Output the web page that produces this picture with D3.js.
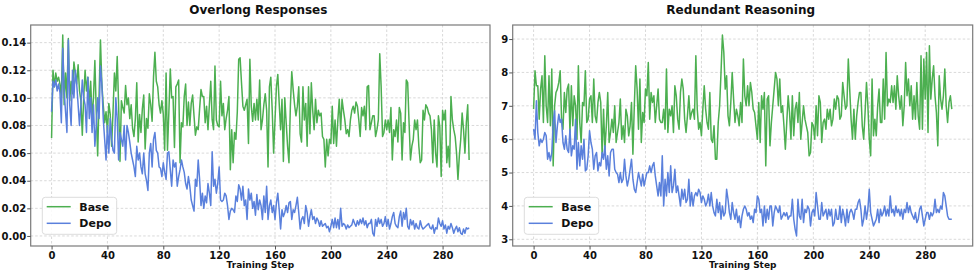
<!DOCTYPE html>
<html>
<head>
<meta charset="utf-8">
<script src="https://cdn.jsdelivr.net/npm/d3@7"></script>
<style>
body { margin: 0; background: #fff; }
svg text { font-family: "DejaVu Sans", sans-serif; font-weight: bold; fill: #111; }
</style>
</head>
<body>
<div id="chart"></div>
<script>
var width = 977; // size of the whole figure
var height = 275;
var top_y = 25, bottom_y = 246; // plot frame, same for both panels

// x ticks shared by both panels
var xTicks = [0, 40, 80, 120, 160, 200, 240, 280];
var leftYTicks = [0, 0.02, 0.04, 0.06, 0.08, 0.10, 0.12, 0.14];
var rightYTicks = [3, 4, 5, 6, 7, 8, 9];
var seriesNames = ["Base", "Depo"];
var seriesColors = ["#4caf50", "#5a80dc"];

// Overlong Responses (fraction), steps 0..299
var overlongBase = [
  0.071, 0.120, 0.108, 0.118, 0.112, 0.115, 0.110, 0.100, 0.1455, 0.095,
  0.118, 0.100, 0.143, 0.098, 0.112, 0.103, 0.126, 0.118, 0.110, 0.124,
  0.105, 0.098, 0.073, 0.100, 0.120, 0.105, 0.115, 0.095, 0.112, 0.085,
  0.100, 0.127, 0.090, 0.058, 0.100, 0.142, 0.110, 0.095, 0.082, 0.090,
  0.075, 0.096, 0.088, 0.065, 0.090, 0.118, 0.105, 0.130, 0.095, 0.054,
  0.098, 0.093, 0.089, 0.109, 0.095, 0.100, 0.085, 0.095, 0.078, 0.072,
  0.085, 0.111, 0.068, 0.088, 0.075, 0.092, 0.102, 0.063, 0.085, 0.078,
  0.103,
  0.095, 0.083, 0.115, 0.133, 0.112, 0.108, 0.095, 0.089, 0.098, 0.088,
  0.062, 0.118, 0.062, 0.090, 0.121, 0.100, 0.101, 0.064, 0.108, 0.110,
  0.113, 0.053, 0.082, 0.079, 0.101, 0.110, 0.080, 0.097, 0.080, 0.096,
  0.102, 0.087, 0.073, 0.079, 0.077, 0.092, 0.106, 0.101, 0.101, 0.082,
  0.094, 0.077, 0.095, 0.112, 0.084, 0.077, 0.123, 0.084, 0.080, 0.079,
  0.112, 0.087, 0.096, 0.077, 0.085, 0.091, 0.101, 0.048, 0.077, 0.053,
  0.075, 0.070, 0.090, 0.128, 0.129, 0.111, 0.094, 0.091, 0.095, 0.099,
  0.067, 0.128, 0.094, 0.083, 0.096, 0.084, 0.099, 0.084, 0.113,
  0.077, 0.084, 0.095, 0.103, 0.091, 0.050, 0.108, 0.115, 0.091, 0.060,
  0.084, 0.108, 0.117, 0.096, 0.077, 0.099, 0.054, 0.100, 0.082, 0.065,
  0.053, 0.094, 0.119, 0.106, 0.095, 0.087, 0.094, 0.108, 0.074, 0.068,
  0.108, 0.084, 0.096, 0.065, 0.108, 0.074, 0.111, 0.091, 0.077, 0.099,
  0.082, 0.091, 0.087, 0.089, 0.072, 0.070, 0.050, 0.070, 0.058, 0.070,
  0.067, 0.094, 0.067, 0.084, 0.065, 0.084, 0.099, 0.077, 0.099, 0.091,
  0.084, 0.074, 0.077, 0.072, 0.084, 0.091, 0.094, 0.089, 0.097, 0.094,
  0.084, 0.072, 0.093, 0.087, 0.094, 0.077, 0.108, 0.109,
  0.077, 0.082, 0.087, 0.087, 0.072, 0.077, 0.084, 0.132, 0.108, 0.072,
  0.075, 0.084, 0.077, 0.084, 0.075, 0.093, 0.055, 0.077, 0.072, 0.084,
  0.068, 0.093, 0.089, 0.055, 0.082, 0.075, 0.113, 0.111, 0.082, 0.055,
  0.065, 0.070, 0.084, 0.077, 0.084, 0.065, 0.053, 0.055, 0.091, 0.084,
  0.095, 0.093, 0.089, 0.087, 0.077, 0.053, 0.084, 0.060, 0.050, 0.087,
  0.079, 0.043, 0.091, 0.084, 0.091, 0.053, 0.065, 0.050, 0.101, 0.084,
  0.077, 0.072, 0.060, 0.041, 0.058, 0.070, 0.089, 0.077, 0.060, 0.082,
  0.095, 0.055
];
var overlongDepo = [
  0.090, 0.112, 0.108, 0.113, 0.105, 0.110, 0.104, 0.082, 0.136, 0.105,
  0.090, 0.075, 0.142, 0.095, 0.080, 0.120, 0.100, 0.120, 0.110, 0.095,
  0.080, 0.095, 0.113, 0.100, 0.095, 0.075, 0.115, 0.085, 0.100, 0.075,
  0.095, 0.065, 0.080, 0.100, 0.085, 0.123, 0.110, 0.085, 0.070, 0.055,
  0.080, 0.060, 0.085, 0.070, 0.062, 0.060, 0.100, 0.085, 0.055, 0.075,
  0.070, 0.065, 0.080, 0.055, 0.080, 0.075, 0.068, 0.060, 0.055, 0.050,
  0.043, 0.065, 0.055, 0.060, 0.050, 0.045, 0.060, 0.045, 0.040, 0.033,
  0.060,
  0.067, 0.050, 0.070, 0.075, 0.062, 0.060, 0.050, 0.049, 0.043, 0.053,
  0.046, 0.041, 0.060, 0.061, 0.048, 0.036, 0.055, 0.050, 0.053, 0.036,
  0.043, 0.048, 0.055, 0.050, 0.046, 0.038, 0.034, 0.043, 0.036, 0.026,
  0.022, 0.018, 0.041, 0.036, 0.055, 0.041, 0.022, 0.031, 0.020, 0.029,
  0.024, 0.038, 0.031, 0.022, 0.061, 0.036, 0.041, 0.031, 0.038, 0.050,
  0.026, 0.025, 0.026, 0.031, 0.029, 0.022, 0.012, 0.018, 0.020, 0.019,
  0.017, 0.029, 0.025, 0.037, 0.034, 0.026, 0.036, 0.022, 0.026, 0.012,
  0.034, 0.026, 0.031, 0.020, 0.025, 0.015, 0.030, 0.019, 0.026,
  0.022, 0.012, 0.029, 0.017, 0.036, 0.012, 0.022, 0.026, 0.017, 0.022,
  0.012, 0.024, 0.031, 0.019, 0.005, 0.019, 0.014, 0.017, 0.022, 0.017,
  0.024, 0.025, 0.012, 0.019, 0.017, 0.022, 0.028, 0.017, 0.005, 0.012,
  0.014, 0.009, 0.022, 0.017, 0.007, 0.014, 0.019, 0.012, 0.014, 0.009,
  0.013, 0.011, 0.007, 0.011, 0.007, 0.008, 0.009, 0.006, 0.007, 0.003,
  0.007, 0.012, 0.006, 0.013, 0.006, 0.012, 0.005, 0.020, 0.007, 0.009,
  0.008, 0.005, 0.008, 0.006, 0.007, 0.008, 0.012, 0.009, 0.007, 0.011,
  0.008, 0.012, 0.009, 0.013, 0.008, 0.011, 0.006, 0.009,
  0.009, 0.012, 0.002, 0.000, 0.012, 0.007, 0.013, 0.009, 0.012, 0.007,
  0.009, 0.014, 0.007, 0.012, 0.005, 0.009, 0.014, 0.017, 0.009, 0.007,
  0.006, 0.014, 0.018, 0.007, 0.017, 0.012, 0.020, 0.007, 0.005, 0.012,
  0.008, 0.011, 0.005, 0.009, 0.006, 0.005, 0.011, 0.007, 0.005, 0.006,
  0.007, 0.008, 0.009, 0.006, 0.005, 0.008, 0.002, 0.006, 0.005, 0.013,
  0.009, 0.007, 0.011, 0.005, 0.008, 0.002, 0.007, 0.005, 0.009, 0.006,
  0.002, 0.005, 0.007, 0.003, 0.006, 0.002, 0.001, 0.005, 0.002, 0.006,
  0.005, 0.006
];

// Redundant Reasoning, steps 0..299
var redundantBase = [
  6.9, 8.05, 7.6, 7.6, 6.6, 7.5, 7.9, 6.5, 8.5, 7.0,
  6.5, 7.9, 6.4, 8.1, 5.2, 7.0, 7.4, 7.5, 7.7, 8.05,
  6.6, 6.3, 7.4, 6.8, 7.5, 7.65, 6.2, 7.6, 6.4, 7.3,
  7.0, 6.0, 8.2, 6.5, 5.9, 7.1, 7.0, 8.05, 6.5, 6.6,
  7.2, 7.3, 6.5, 7.8, 6.7, 6.5, 7.1, 7.4, 7.1, 5.5,
  6.9, 5.7, 6.4, 7.4, 5.9, 6.2, 6.6, 6.2, 7.0, 5.9,
  6.2, 6.5, 7.2, 6.0, 6.4, 5.9, 6.9, 6.7, 6.1, 6.4,
  7.1, 5.55, 7.0, 8.2, 7.5, 6.3, 7.8, 5.9, 6.8, 6.5,
  7.5, 7.3, 8.3, 6.6,
  7.4, 7.1, 7.3, 6.5, 7.0, 7.5, 6.6, 6.5, 6.5, 6.9,
  6.3, 8.1, 6.2, 6.9, 6.7, 7.0, 6.2, 7.6, 7.3, 6.6,
  6.3, 7.4, 7.8, 7.5, 6.6, 6.2, 6.7, 7.3, 6.6, 6.8,
  6.9, 6.6, 8.5, 6.9, 6.3, 6.5, 6.1, 6.9, 7.6, 6.9,
  6.5, 6.3, 7.4, 6.0, 5.9, 6.4, 5.4, 5.4, 6.5, 7.0,
  8.0, 9.12, 8.6, 7.5, 7.9, 6.7, 6.4, 7.1, 8.0, 7.2,
  6.5, 6.9, 6.7, 6.4, 7.1, 6.5, 8.4, 7.3, 7.0, 7.6,
  7.0, 7.7,
  7.4, 6.9, 6.8, 6.4, 6.0, 7.1, 5.9, 7.3, 6.9, 7.4,
  5.2, 7.2, 7.3, 5.8, 6.5, 7.0, 7.5, 8.0, 7.8, 7.0,
  7.8, 6.8, 7.0, 6.4, 5.7, 6.5, 7.3, 6.8, 6.0, 7.3,
  6.1, 6.9, 7.1, 6.5, 7.4, 6.0, 6.5, 7.0, 6.6, 6.4,
  6.2, 5.5, 5.6, 6.5, 6.4, 6.0, 7.0, 6.1, 7.3, 7.1,
  5.9, 6.5, 6.6, 6.3, 6.9, 6.6, 6.9, 6.4, 6.6, 7.2,
  6.9, 7.3, 7.2, 6.6, 6.7, 7.7, 7.3, 6.9, 7.0, 8.4,
  7.5, 6.6, 6.0, 6.9, 6.0, 6.7, 7.1, 7.4,
  7.4, 6.4, 6.0, 6.8, 7.7, 7.0, 6.0, 5.5, 7.8, 6.1,
  6.6, 6.1, 7.0, 7.5, 6.5, 6.5, 7.8, 6.6, 8.6, 7.0,
  7.2, 7.1, 7.6, 7.1, 7.6, 6.9, 7.9, 7.3, 6.9, 7.3,
  6.4, 7.0, 8.3, 7.3, 7.8, 7.0, 7.6, 6.6, 7.3, 6.6,
  7.7, 6.7, 6.3, 8.5, 6.3, 8.4, 7.2, 8.6, 6.2, 8.8,
  7.2, 7.8, 8.2, 7.3, 6.8, 5.8, 7.9, 7.2, 6.9, 7.3,
  8.1, 7.0, 6.5, 7.1, 7.3, 6.9
];
var redundantDepo = [
  6.3, 6.0, 7.15, 6.2, 5.8, 6.0, 5.9, 6.0, 6.2, 6.1,
  5.4, 5.6, 5.35, 5.6, 6.5, 6.85, 5.9, 6.4, 6.75, 6.5,
  6.6, 5.9, 5.7, 6.1, 5.7, 5.6, 6.3, 5.5, 5.8, 5.7,
  6.6, 5.1, 5.9, 5.2, 5.8, 5.4, 6.0, 5.05, 5.1, 5.5,
  6.25, 5.9, 5.7, 5.1, 5.5, 5.6, 5.05, 5.3, 5.2, 5.6,
  5.4, 5.8, 5.1, 5.5, 4.9, 5.6, 5.7, 5.7, 5.1, 5.0,
  4.95, 4.7, 5.0, 4.7, 4.8, 5.4, 4.9, 4.6, 4.8, 5.1,
  5.4, 4.8, 4.5, 4.4, 4.7, 5.0, 4.8, 4.6, 4.95, 4.6,
  4.8, 5.0, 5.0, 5.2,
  5.0, 5.2, 5.3, 4.9, 4.6, 4.3, 4.7, 4.3, 5.5, 4.0,
  4.8, 4.3, 5.0, 4.4, 5.2, 4.4, 4.6, 5.1, 4.4, 4.6,
  4.3, 4.0, 4.5, 4.2, 4.5, 4.1, 4.2, 4.8, 4.0, 4.4,
  4.0, 4.3, 4.4, 4.3, 4.5, 4.4, 4.1, 4.3, 4.2, 4.0,
  4.1, 4.35, 4.0, 4.4, 4.0, 3.8, 3.7, 4.2, 3.8, 4.1,
  3.6, 4.0, 3.7, 3.8, 4.5, 4.2, 3.8, 3.6, 4.1, 3.8,
  3.6, 3.9, 3.5, 3.7, 3.35, 3.7, 3.9, 4.0, 3.9, 3.7,
  3.8, 3.6,
  3.7, 3.5, 3.9, 3.8, 4.3, 4.2, 3.8, 3.9, 3.4, 4.0,
  3.5, 3.9, 3.6, 4.0, 4.0, 3.4, 3.8, 4.0, 3.9, 3.8,
  4.0, 3.6, 3.7, 3.8, 3.7, 3.8, 3.6, 3.7, 3.7, 4.2,
  3.6, 3.3, 3.1, 4.2, 3.7, 3.6, 4.2, 3.5, 3.9, 3.8,
  4.0, 3.9, 3.4, 3.8, 3.9, 3.7, 4.4, 4.0, 3.6, 3.6,
  4.1, 3.7, 3.8, 3.9, 3.6, 3.9, 3.7, 3.9, 3.4, 3.5,
  3.9, 3.6, 3.6, 4.0, 3.5, 3.9, 3.7, 3.4, 3.9, 3.5,
  3.8, 3.9, 3.8, 3.6, 3.9, 3.9, 4.1, 4.2,
  3.9, 3.4, 3.6, 4.0, 3.6, 3.9, 4.5, 3.8, 3.6, 3.4,
  3.5, 3.6, 3.9, 3.5, 3.9, 3.7, 3.8, 4.0, 3.7, 3.9,
  3.7, 4.3, 3.8, 3.9, 3.7, 4.0, 3.8, 3.9, 3.7, 3.9,
  3.6, 3.9, 3.8, 4.1, 3.8, 4.0, 3.8, 3.7, 3.6, 3.8,
  3.5, 3.6, 3.9, 4.0, 3.7, 3.4, 3.6, 3.8, 3.8, 3.6,
  3.8, 3.7, 3.8, 4.2, 3.8, 3.9, 3.8, 4.0, 3.9, 4.4,
  4.3, 4.0, 3.7, 3.6, 3.6, 3.6
];

var svg = d3.select("#chart").append("svg")
  .attr("width", width)
  .attr("height", height);

var panels = [
  { title: "Overlong Responses", series: [overlongBase, overlongDepo], left: 30.7, right: 490, yTicks: leftYTicks, fmt: d3.format(".2f") },
  { title: "Redundant Reasoning", series: [redundantBase, redundantDepo], left: 512.7, right: 972.7, yTicks: rightYTicks, fmt: d3.format("d") }
];

panels.forEach(draw_panel);

function draw_panel(p) {
  var g = svg.append("g");
  var n = p.series[0].length;

  // matplotlib-like autoscale: 5% margin on each side
  var xMax = n - 1;
  var x = d3.scaleLinear()
    .domain([-0.05 * xMax, xMax * 1.05])
    .range([p.left, p.right]);

  var ext = d3.extent(p.series[0].concat(p.series[1]));
  var pad = (ext[1] - ext[0]) * 0.05;
  var y = d3.scaleLinear()
    .domain([ext[0] - pad, ext[1] + pad])
    .range([bottom_y, top_y]);

  // grid
  g.append("g").selectAll("line").data(xTicks).enter().append("line")
    .attr("x1", d => x(d)).attr("x2", d => x(d))
    .attr("y1", top_y).attr("y2", bottom_y)
    .attr("stroke", "#cfcfcf").attr("stroke-width", 0.8).attr("stroke-dasharray", "2.5,2");
  g.append("g").selectAll("line").data(p.yTicks).enter().append("line")
    .attr("x1", p.left).attr("x2", p.right)
    .attr("y1", d => y(d)).attr("y2", d => y(d))
    .attr("stroke", "#cfcfcf").attr("stroke-width", 0.8).attr("stroke-dasharray", "2.5,2");

  // lines (Base first, Depo on top)
  var line = d3.line().x((d, i) => x(i)).y(d => y(d));
  p.series.forEach(function (s, k) {
    g.append("path")
      .datum(s)
      .attr("d", line)
      .attr("fill", "none")
      .attr("stroke", seriesColors[k])
      .attr("stroke-width", 1.5)
      .attr("stroke-linejoin", "round");
  });

  // frame
  g.append("rect")
    .attr("x", p.left).attr("y", top_y)
    .attr("width", p.right - p.left).attr("height", bottom_y - top_y)
    .attr("fill", "none").attr("stroke", "#7a7a7a").attr("stroke-width", 1.2);

  // axes
  var xa = g.append("g")
    .attr("transform", `translate(0,${bottom_y})`)
    .call(d3.axisBottom(x).tickValues(xTicks).tickSize(3.5).tickPadding(2.4));
  var ya = g.append("g")
    .attr("transform", `translate(${p.left},0)`)
    .call(d3.axisLeft(y).tickValues(p.yTicks).tickFormat(p.fmt).tickSize(3.5).tickPadding(1));
  [xa, ya].forEach(function (a) {
    a.select(".domain").remove();
    a.selectAll(".tick line").attr("stroke", "#555");
    a.selectAll(".tick text").style("font-size", "10px").attr("fill", "#111");
  });

  // title and x label
  g.append("text")
    .attr("x", (p.left + p.right) / 2 - 2).attr("y", 14)
    .attr("text-anchor", "middle")
    .style("font-size", "12px")
    .text(p.title);
  g.append("text")
    .attr("x", (p.left + p.right) / 2).attr("y", 268)
    .attr("text-anchor", "middle")
    .style("font-size", "9px")
    .text("Training Step");

  // legend, lower left
  var lg = g.append("g").attr("transform", `translate(${p.left + 11.6},${bottom_y - 48.7})`);
  lg.append("rect")
    .attr("width", 74.4).attr("height", 37).attr("rx", 3)
    .attr("fill", "#fff").attr("fill-opacity", 0.85)
    .attr("stroke", "#dcdcdc").attr("stroke-width", 1);
  var item = lg.selectAll("g.item").data(seriesNames).enter().append("g")
    .attr("class", "item")
    .attr("transform", (d, i) => `translate(0,${9.4 + i * 16.6})`);
  item.append("line")
    .attr("x1", 4.4).attr("x2", 28.4)
    .attr("stroke", (d, i) => seriesColors[i]).attr("stroke-width", 1.5);
  item.append("text")
    .attr("x", 37).attr("y", 4)
    .style("font-size", "11px")
    .text(d => d);
}
</script>
</body>
</html>
